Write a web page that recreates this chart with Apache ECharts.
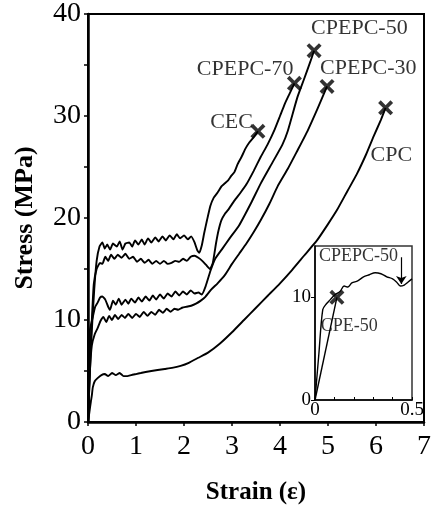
<!DOCTYPE html>
<html>
<head>
<meta charset="utf-8">
<script src="https://cdn.jsdelivr.net/npm/echarts@6/dist/echarts.min.js"></script>
<style>
html,body{margin:0;padding:0;background:#fff;}
#chart{width:434px;height:512px;}
</style>
</head>
<body>
<div id="chart"></div>
<script>
// ---- data (strain, stress MPa) ----
const cec = [[0,0],[0.04,5],[0.08,9],[0.13,13],[0.18,15.8],[0.24,17.2],[0.3,17.6],[0.35,17.0],[0.4,17.4],[0.46,16.9],[0.52,17.5],[0.6,17.2],[0.66,17.7],[0.72,16.9],[0.78,17.5],[0.86,17.6],[0.92,17.2],[0.98,17.8],[1.05,17.4],[1.12,17.9],[1.18,17.4],[1.25,18.0],[1.32,17.6],[1.4,18.1],[1.47,17.7],[1.55,18.2],[1.62,17.8],[1.7,18.3],[1.78,17.9],[1.85,18.4],[1.92,18.0],[2.0,18.3],[2.08,17.9],[2.15,18.2],[2.22,17.6],[2.28,16.8],[2.32,16.6],[2.37,17.3],[2.42,18.5],[2.48,19.8],[2.55,21.2],[2.62,22.0],[2.7,22.5],[2.78,23.1],[2.85,23.4],[2.92,23.7],[2.98,24.1],[3.05,24.5],[3.12,25.3],[3.2,26.0],[3.28,26.8],[3.36,27.4],[3.45,27.9],[3.54,28.5]];
const cpepc70 = [[0,0],[0.04,6],[0.08,10],[0.12,13.5],[0.18,15.0],[0.25,15.6],[0.3,15.5],[0.36,16.2],[0.42,15.8],[0.48,16.4],[0.55,16.0],[0.62,16.4],[0.7,16.1],[0.78,16.5],[0.86,16.0],[0.94,16.2],[1.02,15.7],[1.1,16.0],[1.18,15.6],[1.26,15.9],[1.34,15.5],[1.42,15.8],[1.5,15.5],[1.58,15.8],[1.66,15.5],[1.74,15.6],[1.82,15.8],[1.9,15.7],[1.98,16.0],[2.06,15.8],[2.14,16.2],[2.22,16.3],[2.3,16.1],[2.38,15.8],[2.46,15.4],[2.54,15.0],[2.6,15.6],[2.67,17.6],[2.72,18.8],[2.78,19.8],[2.85,20.4],[2.92,20.8],[3.05,21.7],[3.18,22.5],[3.3,23.3],[3.45,24.6],[3.6,26.0],[3.74,27.2],[3.89,28.7],[4.0,30.0],[4.1,31.2],[4.2,32.2],[4.3,33.2]];
const cpepc50 = [[0,0],[0.02,4.5],[0.04,9.0],[0.1,10.3],[0.15,11.3],[0.2,11.7],[0.25,12.2],[0.3,12.3],[0.36,12.0],[0.42,11.3],[0.46,11.0],[0.52,11.9],[0.58,11.5],[0.64,12.1],[0.7,11.5],[0.78,12.0],[0.84,11.6],[0.9,12.1],[0.98,11.7],[1.05,12.2],[1.12,11.8],[1.2,12.3],[1.28,11.9],[1.35,12.4],[1.42,12.0],[1.5,12.5],[1.58,12.1],[1.66,12.6],[1.74,12.3],[1.82,12.8],[1.9,12.4],[1.98,12.8],[2.06,12.5],[2.14,12.9],[2.22,12.6],[2.3,12.7],[2.37,12.5],[2.45,13.3],[2.55,14.8],[2.65,16.0],[2.8,17.0],[2.95,18.0],[3.15,19.3],[3.4,21.5],[3.6,23.4],[3.85,25.5],[4.05,27.2],[4.16,28.5],[4.36,31.8],[4.5,33.6],[4.63,35.3],[4.71,36.4]];
const cpepc30 = [[0,0],[0.04,5],[0.08,7.5],[0.14,8.6],[0.2,9.2],[0.26,9.9],[0.32,10.3],[0.38,9.8],[0.44,10.4],[0.5,10.0],[0.56,10.5],[0.63,10.1],[0.7,10.5],[0.77,10.2],[0.84,10.6],[0.92,10.2],[1.0,10.6],[1.08,10.3],[1.16,10.8],[1.24,10.4],[1.32,10.8],[1.4,10.5],[1.48,11.0],[1.56,10.7],[1.64,11.1],[1.72,10.8],[1.8,11.1],[1.88,11.0],[1.96,11.2],[2.05,11.3],[2.15,11.4],[2.25,11.6],[2.35,11.9],[2.45,12.3],[2.57,13.0],[2.7,13.6],[2.85,14.4],[3.0,15.5],[3.15,16.5],[3.3,17.5],[3.45,18.6],[3.6,19.8],[3.78,21.4],[3.95,23.1],[4.16,24.8],[4.35,26.5],[4.57,28.5],[4.78,30.7],[4.98,32.9]];
const cpc = [[0,0],[0.03,1],[0.06,2],[0.08,2.6],[0.1,3.4],[0.14,4.0],[0.2,4.3],[0.28,4.6],[0.35,4.7],[0.42,4.5],[0.5,4.8],[0.58,4.6],[0.66,4.8],[0.74,4.5],[0.82,4.5],[0.9,4.6],[1.0,4.7],[1.1,4.8],[1.2,4.9],[1.32,5.0],[1.45,5.1],[1.6,5.2],[1.75,5.3],[1.93,5.5],[2.1,5.8],[2.3,6.3],[2.5,6.8],[2.75,7.7],[3.0,8.8],[3.25,10.0],[3.5,11.2],[3.75,12.4],[4.0,13.6],[4.25,14.9],[4.5,16.3],[4.77,17.8],[5.0,19.4],[5.19,20.8],[5.4,22.6],[5.6,24.3],[5.8,26.3],[5.95,28.0],[6.1,29.6],[6.2,30.8]];

// inset (small strain)
const insetCpepc50 = [[0,0],[0.02,4.5],[0.04,8.8],[0.06,9.4],[0.08,9.8],[0.1,10.2],[0.13,10.6],[0.15,11.1],[0.17,11.0],[0.19,11.4],[0.22,11.6],[0.25,12.0],[0.28,12.2],[0.31,12.4],[0.34,12.3],[0.37,12.0],[0.4,11.8],[0.42,11.5],[0.44,11.1],[0.46,11.2],[0.48,11.5],[0.5,11.8]];
const insetCpe50 = [[0,0],[0.113,10]];
const insetArrow = [[0.445,13.9],[0.445,11.3]];
const insetLabelAnchors = [['CPEPC-50',0.02,14.0],['CPE-50',0.03,7.2]];

const seriesNames = ['CEC','CPEPC-70','CPEPC-50','CPEPC-30','CPC'];
const yTicks = [0,10,20,30,40];
const xTicks = [0,1,2,3,4,5,6,7];

// ---- styles ----
const FONT = '"Liberation Serif", "Times New Roman", serif';
const labelStyle = {
  'CEC':      {align:'right', offset:[-5,-9]},
  'CPEPC-70': {align:'right', offset:[-1,-14]},
  'CPEPC-50': {align:'left',  offset:[-3,-23]},
  'CPEPC-30': {align:'left',  offset:[-7,-18]},
  'CPC':      {align:'left',  offset:[-15,47]}
};
const XPATH = 'path://M0,3.5 L3.5,0 L10,6.5 L16.5,0 L20,3.5 L13.5,10 L20,16.5 L16.5,20 L10,13.5 L3.5,20 L0,16.5 L6.5,10 Z';

const curves = [cec, cpepc70, cpepc50, cpepc30, cpc];
const lineSeries = curves.map((d, i) => ({
  name: seriesNames[i], type: 'line', xAxisIndex: 0, yAxisIndex: 0,
  data: d, showSymbol: false, smooth: 0.15,
  lineStyle: {color: '#000', width: 1.9}, z: 3, silent: true
}));
const endMarks = {
  type: 'scatter', xAxisIndex: 0, yAxisIndex: 0, symbol: XPATH, symbolSize: 15,
  itemStyle: {color: '#000'}, z: 5, silent: true,
  data: curves.map((d, i) => {
    const p = d[d.length - 1];
    const st = labelStyle[seriesNames[i]];
    return {name: seriesNames[i], value: p,
      label: {show: true, position: 'inside', formatter: '{b}', color: '#000',
        fontFamily: FONT, fontSize: 22, align: st.align, verticalAlign: 'middle', offset: st.offset}};
  })
};

const option = {
  backgroundColor: '#fff',
  animation: false,
  grid: [
    {left: 88, top: 8, width: 341, height: 414, show: true, borderColor: '#000', borderWidth: 2, backgroundColor: 'transparent'},
    {left: 315, top: 246, width: 97, height: 154, show: true, borderColor: '#333', borderWidth: 1.5, backgroundColor: '#fff', z: 10}
  ],
  xAxis: [
    {gridIndex: 0, type: 'value', min: 0, max: 7, interval: 1,
      name: 'Strain (ε)', nameLocation: 'middle', nameGap: 58,
      nameTextStyle: {fontFamily: FONT, fontSize: 25, fontWeight: 'bold', color: '#000'},
      axisLine: {show: true, onZero: false, lineStyle: {color: '#000', width: 2.5}},
      axisTick: {show: true, inside: false, length: 4, lineStyle: {color: '#000', width: 1.5}},
      axisLabel: {fontFamily: FONT, fontSize: 28, color: '#000', margin: 11,
        formatter: v => xTicks.includes(v) ? String(v) : ''},
      splitLine: {show: false}},
    {gridIndex: 1, type: 'value', min: 0, max: 0.5, interval: 0.1, z: 10,
      axisLine: {show: true, onZero: false, lineStyle: {color: '#000', width: 1.5}},
      axisTick: {show: true, inside: true, length: 3, lineStyle: {color: '#000'}},
      axisLabel: {fontFamily: FONT, fontSize: 19, color: '#000', margin: 1,
        formatter: v => (Math.abs(v) < 1e-9 ? '0' : (Math.abs(v - 0.5) < 1e-9 ? '0.5' : ''))},
      splitLine: {show: false}}
  ],
  yAxis: [
    {gridIndex: 0, type: 'value', min: 0, max: 40, interval: 10,
      name: 'Stress (MPa)', nameLocation: 'middle', nameGap: 50, nameRotate: 90,
      nameTextStyle: {fontFamily: FONT, fontSize: 26, fontWeight: 'bold', color: '#000'},
      axisLine: {show: true, onZero: false, lineStyle: {color: '#000', width: 2.5}},
      axisTick: {show: true, inside: false, length: 4, lineStyle: {color: '#000', width: 1.5}},
      minorTick: {show: true, splitNumber: 2, length: 4, lineStyle: {color: '#000', width: 1.5}},
      axisLabel: {fontFamily: FONT, fontSize: 28, color: '#000', margin: 7,
        formatter: v => yTicks.includes(v) ? String(v) : ''},
      splitLine: {show: false}},
    {gridIndex: 1, type: 'value', min: 0, max: 15, interval: 5, z: 10,
      axisLine: {show: true, onZero: false, lineStyle: {color: '#000', width: 1.5}},
      axisTick: {show: true, inside: false, length: 4, lineStyle: {color: '#000'},
        customValues: [0, 10]},
      axisLabel: {fontFamily: FONT, fontSize: 19, color: '#000', margin: 4,
        formatter: v => (v === 0 || v === 10) ? String(v) : ''},
      splitLine: {show: false}}
  ],
  series: [
    ...lineSeries,
    endMarks,
    {type: 'line', xAxisIndex: 1, yAxisIndex: 1, data: insetCpepc50, showSymbol: false, smooth: 0.3,
      lineStyle: {color: '#000', width: 1.4}, z: 12, silent: true},
    {type: 'line', xAxisIndex: 1, yAxisIndex: 1, data: insetCpe50, showSymbol: false,
      lineStyle: {color: '#000', width: 1.4}, z: 12, silent: true},
    {type: 'scatter', xAxisIndex: 1, yAxisIndex: 1, symbol: XPATH, symbolSize: 15,
      itemStyle: {color: '#000'}, z: 13, silent: true,
      data: [insetCpe50[insetCpe50.length - 1]]},
    {type: 'lines', coordinateSystem: 'cartesian2d', xAxisIndex: 1, yAxisIndex: 1, z: 13, silent: true,
      symbol: ['none', 'arrow'], symbolSize: 8,
      lineStyle: {color: '#000', width: 1.2, opacity: 1},
      data: [{coords: insetArrow}]},
    {type: 'scatter', xAxisIndex: 1, yAxisIndex: 1, symbolSize: 0, z: 14, silent: true,
      data: insetLabelAnchors.map(a => ({name: a[0], value: [a[1], a[2]],
        label: {show: true, position: 'inside', formatter: '{b}', align: 'left', verticalAlign: 'middle',
          fontFamily: FONT, fontSize: 18, color: '#000'}}))}
  ]
};
const chart = echarts.init(document.getElementById('chart'), null, {renderer: 'canvas'});
chart.setOption(option);
</script>
</body>
</html>
